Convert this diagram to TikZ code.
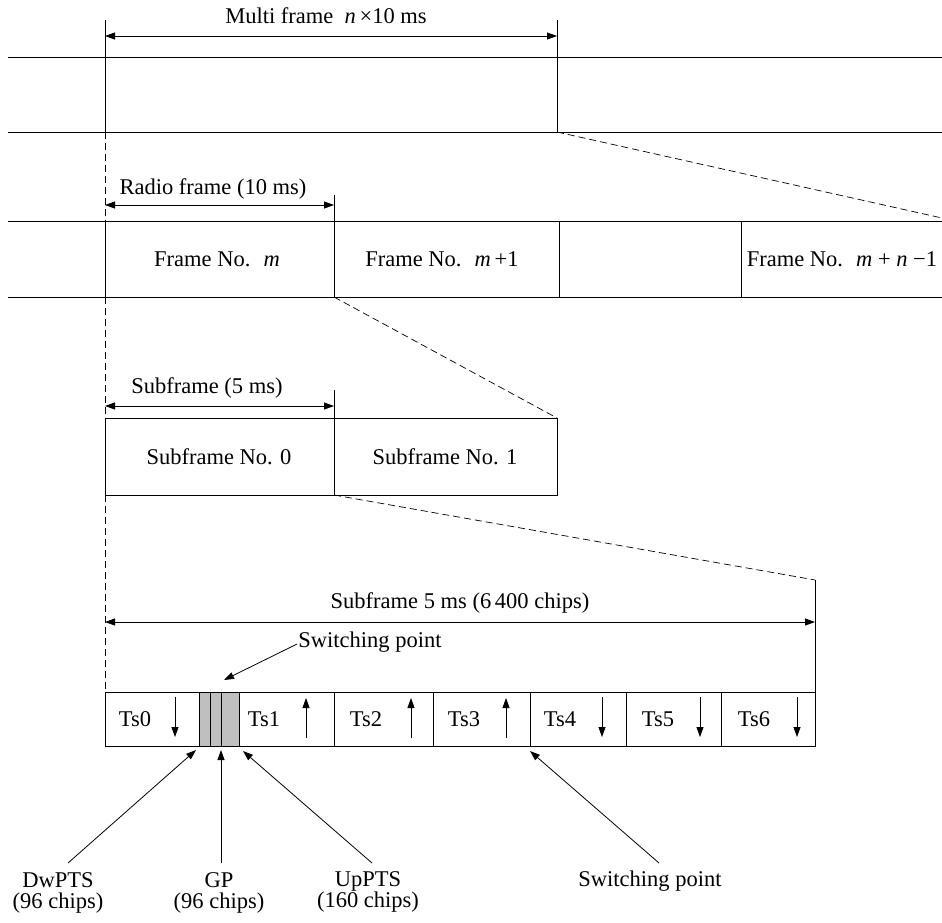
\documentclass[tikz,border=0pt]{standalone}
\usepackage{fontspec}
\setmainfont{Liberation Serif}
\usetikzlibrary{arrows.meta}
\begin{document}
\begin{tikzpicture}[x=1pt,y=-1pt,
  line width=0.8pt,
  lbl/.style={font=\fontsize{22.5}{21}\selectfont, inner sep=1pt, align=center},
  dim/.style={{Triangle[length=10pt,width=7pt]}-{Triangle[length=10pt,width=7pt]}},
  pt/.style={-{Triangle[length=10pt,width=7pt]}},
  zoomline/.style={dash pattern=on 7pt off 4pt, line width=0.7pt},
]
\useasboundingbox (0,0) rectangle (942,922);

% ---------- multi frame row ----------
\coordinate (L1a) at (8,57);   \coordinate (R1a) at (942,57);
\coordinate (L1b) at (8,132);  \coordinate (R1b) at (942,132);
\coordinate (m0t) at (105,20); \coordinate (m0b) at (105,132);
\coordinate (m1t) at (557,20); \coordinate (m1b) at (557,132);
\coordinate (ma0) at (105,36); \coordinate (ma1) at (557,36);
\draw (L1a) -- (R1a);
\draw (L1b) -- (R1b);
\draw (m0t) -- (m0b);
\draw (m1t) -- (m1b);
\draw[dim] (ma0) -- (ma1);
\node[lbl] (mlabel) at (326,16) {Multi frame \ \textit{n}\,×10 ms};

% zoom line 1
\coordinate (z1e) at (942,218);
\draw[zoomline] (m1b) -- (z1e);

% left dashed guide
\coordinate (gtop) at (105,132);
\coordinate (gbot) at (105,692);
\draw[zoomline] (gtop) -- (gbot);

% ---------- radio frame row ----------
\coordinate (L2a) at (8,221);  \coordinate (R2a) at (942,221);
\coordinate (L2b) at (8,297);  \coordinate (R2b) at (942,297);
\draw (L2a) -- (R2a);
\draw (L2b) -- (R2b);
\coordinate (f0t) at (105,221); \coordinate (f0b) at (105,297);
\coordinate (f1t) at (334,195); \coordinate (f1b) at (334,297);
\coordinate (f2t) at (559,221); \coordinate (f2b) at (559,297);
\coordinate (f3t) at (741,221); \coordinate (f3b) at (741,297);
\draw (f0t) -- (f0b);
\draw (f1t) -- (f1b);
\draw (f2t) -- (f2b);
\draw (f3t) -- (f3b);
\coordinate (ra0) at (105,205); \coordinate (ra1) at (334,205);
\draw[dim] (ra0) -- (ra1);
\node[lbl] (rlabel) at (213,189) {Radio frame (10 ms)};
\node[lbl] (fr0) at (217,259) {Frame No. \ \textit{m}};
\node[lbl] (fr1) at (442,259) {Frame No. \ \textit{m}\,+1};
\node[lbl] (fr2) at (842,259) {Frame No. \ \textit{m} + \textit{n} −1};

% zoom line 2
\coordinate (z2e) at (557,418);
\draw[zoomline] (f1b) -- (z2e);

% ---------- subframe row ----------
\coordinate (sb0) at (105,418); \coordinate (sb1) at (557,495);
\draw (sb0) rectangle (sb1);
\coordinate (s1t) at (334,390); \coordinate (s1b) at (334,495);
\draw (s1t) -- (s1b);
\coordinate (sa0) at (105,406); \coordinate (sa1) at (334,406);
\draw[dim] (sa0) -- (sa1);
\node[lbl] (slabel) at (207,388) {Subframe (5 ms)};
\node[lbl] (sf0) at (219,457) {Subframe No. 0};
\node[lbl] (sf1) at (445,457) {Subframe No. 1};

% zoom line 3
\coordinate (z3e) at (815,580);
\draw[zoomline] (s1b) -- (z3e);

% ---------- time slot row ----------
\node[lbl] (tlabel) at (460,603) {Subframe 5 ms (6\,400 chips)};
\coordinate (ta0) at (105,622); \coordinate (ta1) at (815,622);
\draw[dim] (ta0) -- (ta1);
\coordinate (tb0) at (105,692); \coordinate (tb1) at (815,746);
\coordinate (rtop) at (815,580); \coordinate (rbot) at (815,692);
\draw (rtop) -- (rbot);
\fill[black!25] (199,692) rectangle (239,746);
\draw (tb0) rectangle (tb1);
\foreach \x in {199,210,221,239,334,433,530,626,721}{
  \draw (\x,692) -- (\x,746);
}
\node[lbl] (ts0) at (135,719) {Ts0};
\node[lbl] (ts1) at (264,719) {Ts1};
\node[lbl] (ts2) at (366,719) {Ts2};
\node[lbl] (ts3) at (464,719) {Ts3};
\node[lbl] (ts4) at (560,719) {Ts4};
\node[lbl] (ts5) at (658,719) {Ts5};
\node[lbl] (ts6) at (754,719) {Ts6};
\foreach \x in {175,602,700,797}{
  \draw[pt] (\x,697) -- (\x,737);
}
\foreach \x in {306,411,506}{
  \draw[pt] (\x,738) -- (\x,698);
}

% switching point (top)
\node[lbl] (sw1) at (370,642) {Switching point};
\coordinate (sw1tip) at (224,680);
\draw[pt] ([yshift=-2pt]sw1.west) -- (sw1tip);

% ---------- bottom labels ----------
\node[lbl] (dw) at (58,893) {DwPTS\\(96 chips)};
\node[lbl] (gp) at (219,893) {GP\\(96 chips)};
\node[lbl] (up) at (368,892) {UpPTS\\(160 chips)};
\node[lbl] (sw2) at (650,881) {Switching point};
\coordinate (dwtail) at (68,863); \coordinate (dwtip) at (196,750);
\coordinate (gptail) at (221,863); \coordinate (gptip) at (221,750);
\coordinate (uptail) at (372,863); \coordinate (uptip) at (243,751);
\coordinate (swtail) at (659,863); \coordinate (swtip) at (530,751);
\draw[pt] (dwtail) -- (dwtip);
\draw[pt] (gptail) -- (gptip);
\draw[pt] (uptail) -- (uptip);
\draw[pt] (swtail) -- (swtip);
\end{tikzpicture}
\end{document}
